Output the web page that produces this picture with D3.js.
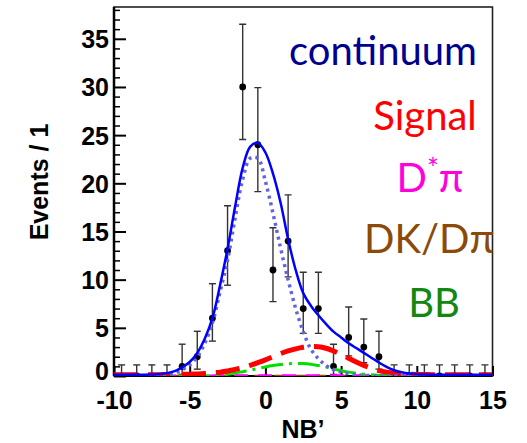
<!DOCTYPE html>
<html>
<head>
<meta charset="utf-8">
<script src="https://cdn.jsdelivr.net/npm/d3@7"></script>
<style>
  body { margin: 0; background: #fff; }
  svg { display: block; }
  .tick text { font-family: "Liberation Sans", Arial, sans-serif; font-weight: bold; font-size: 25px; }
  .legend { font-family: Lato, "Open Sans", sans-serif; font-size: 40px; }
</style>
</head>
<body>
<svg id="chart" width="527" height="443"></svg>
<script>
// binned data (bin width 1)
const binCenters = [-9.5,-8.5,-7.5,-6.5,-5.5,-4.5,-3.5,-2.5,-1.5,-0.5,0.5,1.5,2.5,3.5,4.5,5.5,6.5,7.5,8.5,9.5,10.5,11.5,12.5,13.5,14.5];
const counts     = [0,0,0,0,1,2,6,13,30,24,11,14,7,7,1,4,3,2,0,0,0,0,0,0,0];
const errLow     = [0,0,0,0,0.17,0.71,3.62,9.42,24.55,19.14,7.72,10.29,4.42,4.42,0.17,2.09,1.37,0.71,0,0,0,0,0,0,0];
const errHigh    = [1.15,1.15,1.15,1.15,3.3,4.64,9.58,17.67,36.51,29.93,15.38,18.8,10.77,10.77,3.3,7.16,5.92,4.64,1.15,1.15,1.15,1.15,1.15,1.15,1.15];

// fit curves
const curveX = [-10,-9.5,-9,-8.5,-8,-7.5,-7,-6.5,-6,-5.5,-5,-4.5,-4,-3.5,-3,-2.5,-2,-1.5,-1,-0.5,0,0.5,1,1.5,2,2.5,3,3.5,4,4.5,5,5.5,6,6.5,7,7.5,8,8.5,9,9.5,10,10.5,11,11.5,12,12.5,13,13.5,14,14.5,15];
const totalFit  = [0.12,0.12,0.12,0.13,0.14,0.16,0.2,0.3,0.5,0.9,1.45,2.4,3.9,6.0,9.4,13.2,17.6,21.6,23.8,24.2,23.2,21.0,18.0,14.2,11.0,8.6,7.3,6.3,5.4,4.6,4.0,3.4,2.9,2.4,1.9,1.4,0.95,0.6,0.38,0.25,0.18,0.15,0.14,0.13,0.12,0.12,0.12,0.12,0.12,0.12,0.12];
const continuum = [0,0,0.01,0.01,0.02,0.04,0.07,0.15,0.3,0.65,1.15,2.0,3.4,5.5,8.7,12.0,16.4,20.4,22.6,22.6,20.2,16.9,13.3,10.0,7.0,4.6,2.8,1.8,1.1,0.65,0.38,0.22,0.12,0.07,0.04,0.03,0.02,0.02,0.02,0.02,0.02,0.02,0.02,0.02,0.02,0.02,0.02,0.02,0.02,0.02,0.02];
const signal    = [0.12,0.12,0.12,0.12,0.13,0.13,0.14,0.15,0.16,0.17,0.19,0.22,0.26,0.32,0.4,0.52,0.68,0.88,1.1,1.38,1.68,2.0,2.32,2.6,2.82,2.98,3.06,3.04,2.88,2.6,2.25,1.85,1.45,1.1,0.8,0.56,0.4,0.29,0.22,0.18,0.16,0.15,0.14,0.14,0.13,0.13,0.13,0.12,0.12,0.12,0.12];
const bbBkg     = [0,0,0,0,0,0,0,0,0,0,0,0,0.01,0.03,0.08,0.17,0.3,0.45,0.6,0.78,0.94,1.08,1.19,1.27,1.3,1.3,1.22,1.08,0.93,0.74,0.55,0.4,0.28,0.19,0.12,0.08,0.05,0.03,0.02,0.01,0.01,0.01,0.01,0.01,0.01,0.01,0.01,0.01,0.01,0.01,0.01];
const bkgX      = [-10,-5,0,3,6,10,15];
const dstarPi   = [0.05,0.06,0.08,0.09,0.07,0.05,0.05];
const dkDpi     = [0.02,0.02,0.03,0.03,0.03,0.02,0.02];

const xTicks = [-10,-5,0,5,10,15];
const yTicks = [0,5,10,15,20,25,30,35];

const svg = d3.select('#chart');
const x = d3.scaleLinear().domain([-10, 15]).range([114, 492.5]);
const y = d3.scaleLinear().domain([0, 38.3]).range([376, 7]);

svg.append('defs').append('clipPath').attr('id', 'plotclip')
  .append('rect').attr('x', x(-10)).attr('y', y(38.3))
  .attr('width', x(15) - x(-10)).attr('height', y(0) - y(38.3));

// frame
svg.append('rect')
  .attr('x', x(-10)).attr('y', y(38.3))
  .attr('width', x(15) - x(-10)).attr('height', y(0) - y(38.3))
  .attr('fill', 'none').attr('stroke', '#222').attr('stroke-width', 1.6);

// y axis, ticks inside
const yAxis = svg.append('g').attr('transform', 'translate(' + x(-10) + ',0)')
  .call(d3.axisRight(y).tickValues(yTicks).tickSize(12).tickFormat(''));
yAxis.select('.domain').remove();
yAxis.selectAll('line').attr('stroke', '#000').attr('stroke-width', 2);
svg.append('g').attr('transform', 'translate(' + x(-10) + ',0)')
  .call(d3.axisRight(y).tickValues(d3.range(1, 39).filter(v => v % 5 !== 0)).tickSize(6).tickFormat(''))
  .call(g => g.select('.domain').remove())
  .selectAll('line').attr('stroke', '#000').attr('stroke-width', 1.5);

const yLabels = svg.append('g').attr('transform', 'translate(' + x(-10) + ',0)')
  .call(d3.axisLeft(y).tickValues(yTicks).tickSize(0).tickPadding(5).tickFormat(d => String(d)));
yLabels.select('.domain').remove();
yLabels.selectAll('text').attr('fill', '#000').attr('dy', d => d === 0 ? '0.12em' : '0.36em');

// x axis, ticks inside
const xAxis = svg.append('g').attr('transform', 'translate(0,' + y(0) + ')')
  .call(d3.axisTop(x).tickValues(xTicks).tickSize(10).tickFormat(''));
xAxis.select('.domain').remove();
xAxis.selectAll('line').attr('stroke', '#000').attr('stroke-width', 2);

const xLabels = svg.append('g').attr('transform', 'translate(0,' + y(0) + ')')
  .call(d3.axisBottom(x).tickValues(xTicks).tickSize(0).tickPadding(15).tickFormat(d => String(d)));
xLabels.select('.domain').remove();
xLabels.selectAll('text').attr('fill', '#000').attr('dy', '0.71em');

svg.append('line').attr('x1', x(-10)).attr('x2', x(-10)).attr('y1', y(38.3)).attr('y2', y(0))
  .attr('stroke', '#000').attr('stroke-width', 2.5);
svg.append('line').attr('x1', x(-10)).attr('x2', x(15)).attr('y1', y(0)).attr('y2', y(0))
  .attr('stroke', '#000').attr('stroke-width', 2);

// axis titles
svg.append('text')
  .attr('transform', 'translate(48,182) rotate(-90)')
  .attr('text-anchor', 'middle')
  .style('font-family', '"Liberation Sans", Arial, sans-serif')
  .style('font-weight', 'bold').style('font-size', '25px')
  .text('Events / 1');
svg.append('text')
  .attr('x', 303).attr('y', 438).attr('text-anchor', 'middle')
  .style('font-family', '"Liberation Sans", Arial, sans-serif')
  .style('font-weight', 'bold').style('font-size', '25px')
  .text('NB\u2019');

// data points with asymmetric errors
const plot = svg.append('g').attr('clip-path', 'url(#plotclip)');
const pts = binCenters.map((c, i) => ({c: c, n: counts[i], lo: errLow[i], hi: errHigh[i]}));
const pg = plot.selectAll('g.pt').data(pts).enter().append('g').attr('class', 'pt');
pg.append('line')
  .attr('x1', d => x(d.c)).attr('x2', d => x(d.c))
  .attr('y1', d => y(d.lo)).attr('y2', d => y(d.hi))
  .attr('stroke', '#333').attr('stroke-width', 1.4);
pg.append('line')
  .attr('x1', d => x(d.c) - 3.5).attr('x2', d => x(d.c) + 3.5)
  .attr('y1', d => y(d.hi)).attr('y2', d => y(d.hi))
  .attr('stroke', '#333').attr('stroke-width', 1.4);
pg.append('line')
  .attr('x1', d => x(d.c) - 3.5).attr('x2', d => x(d.c) + 3.5)
  .attr('y1', d => y(d.lo)).attr('y2', d => y(d.lo))
  .attr('stroke', '#333').attr('stroke-width', 1.4);
pg.append('circle')
  .attr('cx', d => x(d.c)).attr('cy', d => y(d.n)).attr('r', 3.4)
  .attr('fill', '#000');

// curves
function drawCurve(xs, ys, color, width, dash) {
  const line = d3.line()
    .x((d, i) => x(xs[i]))
    .y(d => y(d))
    .curve(d3.curveCatmullRom.alpha(0.5));
  plot.append('path')
    .attr('d', line(ys))
    .attr('fill', 'none')
    .attr('stroke', color)
    .attr('stroke-width', width)
    .attr('stroke-dasharray', dash);
}
drawCurve(bkgX, dkDpi, '#9a4d0c', 2, '12,8');
drawCurve(bkgX, dstarPi, '#ff00ff', 2, '14,10');
drawCurve(curveX, bbBkg, '#00e000', 3, '22,6,3,6');
drawCurve(curveX, signal, '#ff0000', 5, '24,10');
drawCurve(curveX, continuum, '#6464dc', 3.5, '3,4');
drawCurve(curveX, totalFit, '#0000ff', 2.5, null);

// legend text
const legend = svg.append('g').attr('class', 'legend').attr('text-anchor', 'middle');
legend.append('text').attr('x', 383).attr('y', 65).attr('fill', '#000090').text('continuum');
legend.append('text').attr('x', 425).attr('y', 130).attr('fill', '#ff0000').text('Signal');
const dst = legend.append('text').attr('x', 430).attr('y', 192).attr('fill', '#ff00dd');
dst.append('tspan').text('D');
dst.append('tspan').attr('dy', -13).style('font-size', '28px').text('*');
dst.append('tspan').attr('dy', 13).text('\u03c0');
legend.append('text').attr('x', 429).attr('y', 253).attr('fill', '#8c4a08').text('DK/D\u03c0');
legend.append('text').attr('x', 434).attr('y', 317).attr('fill', '#118811').text('BB');
</script>
</body>
</html>
